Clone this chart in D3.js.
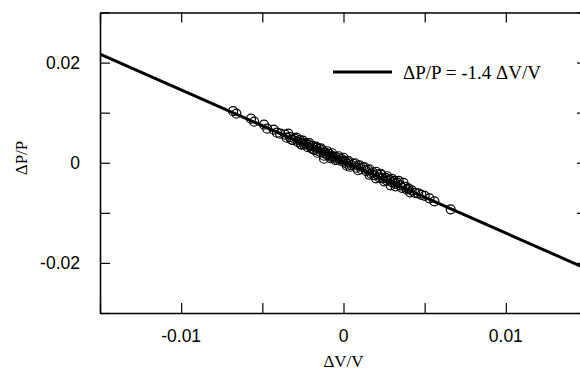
<!DOCTYPE html>
<html>
<head>
<meta charset="utf-8">
<script src="https://cdn.jsdelivr.net/npm/d3@7"></script>
<style>
  body { margin: 0; background: #fff; }
  .tick-label { font-family: "Liberation Sans", Arial, sans-serif; font-size: 17.5px; fill: #000; }
  .title { font-family: "Liberation Serif", "Times New Roman", serif; fill: #000; }
</style>
</head>
<body>
<svg id="chart"></svg>
<script>
// measured points, ΔV/V and ΔP/P
const dvv = [
  -0.0068, -0.0066, -0.0057, -0.0055, -0.0049, -0.0047, -0.0043, -0.0041, -0.0039,
  -0.0036, -0.0035, -0.0033, -0.0031, -0.0030, -0.0028, -0.0027, -0.0026, -0.0025, -0.0024,
  -0.0023, -0.0022, -0.0021, -0.0020, -0.0019, -0.0018, -0.0017, -0.0016, -0.0015, -0.0014,
  -0.0013, -0.0012, -0.0012, -0.0011, -0.0010, -0.0009, -0.0008, -0.0007, -0.0006, -0.0005,
  -0.0004, -0.0003, -0.0002, -0.0001, 0.0000, 0.0001, 0.0002, 0.0003, 0.0005, 0.0006,
  0.0008, 0.0009, 0.0011, 0.0012, 0.0014, 0.0015, 0.0017, 0.0018, 0.0019, 0.0021,
  0.0022, 0.0023, 0.0024, 0.0026, 0.0027, 0.0028, 0.0030, 0.0031, 0.0032, 0.0033,
  0.0035, 0.0036, 0.0038, 0.0039, 0.0040, 0.0042, 0.0044, 0.0046, 0.0048, 0.0050,
  0.0053, 0.0056, 0.0066,
  -0.0034, -0.0029, -0.0025, -0.0021, -0.0017, -0.0014, -0.0010, -0.0007, -0.0003, 0.0000,
  0.0003, 0.0007, 0.0010, 0.0013, 0.0016, 0.0020, 0.0023, 0.0027, 0.0030, 0.0034, 0.0037,
  -0.0032, -0.0026, -0.0019, -0.0012, -0.0005, 0.0002, 0.0009, 0.0016, 0.0025, 0.0032, 0.0041,
  0.0004, 0.0020, 0.0029, -0.0008, -0.0016
];
const dpp = [
  0.0103, 0.0098, 0.0088, 0.0082, 0.0076, 0.0068, 0.0066, 0.0060, 0.0058,
  0.0056, 0.0050, 0.0051, 0.0045, 0.0048, 0.0041, 0.0045, 0.0037, 0.0040, 0.0036,
  0.0038, 0.0031, 0.0035, 0.0030, 0.0033, 0.0026, 0.0030, 0.0024, 0.0028, 0.0021,
  0.0025, 0.0008, 0.0019, 0.0020, 0.0015, 0.0018, 0.0012, 0.0014, 0.0010, 0.0012,
  0.0006, 0.0009, 0.0004, 0.0007, 0.0002, 0.0004, -0.0002, 0.0001, -0.0005, -0.0002,
  -0.0010, -0.0006, -0.0013, -0.0009, -0.0017, -0.0014, -0.0022, -0.0019, -0.0025, -0.0023,
  -0.0029, -0.0024, -0.0031, -0.0030, -0.0036, -0.0033, -0.0039, -0.0036, -0.0042, -0.0039,
  -0.0045, -0.0050, -0.0048, -0.0053, -0.0051, -0.0055, -0.0060, -0.0061, -0.0064, -0.0066,
  -0.0071, -0.0077, -0.0093,
  0.0058, 0.0050, 0.0044, 0.0039, 0.0032, 0.0029, 0.0023, 0.0019, 0.0013, 0.0010,
  0.0004, -0.0001, -0.0005, -0.0009, -0.0013, -0.0018, -0.0022, -0.0027, -0.0032, -0.0036, -0.0040,
  0.0046, 0.0036, 0.0027, 0.0014, 0.0005, -0.0006, -0.0015, -0.0024, -0.0037, -0.0047, -0.0059,
  -0.0008, -0.0031, -0.0045, 0.0009, 0.0020
];
// fit line  ΔP/P = -1.4 ΔV/V, end points
const fitX = [-0.015, 0.015];
const fitY = [0.0217, -0.0212];

const xTicks = [-0.015, -0.01, -0.005, 0, 0.005, 0.01, 0.015];
const xLabels = [-0.01, 0, 0.01];
const yTicks = [-0.03, -0.02, -0.01, 0, 0.01, 0.02, 0.03];
const yLabels = [-0.02, 0, 0.02];

const width = 580, height = 370;
const margin = { top: 12.5, right: -7, bottom: 57, left: 100 };

const svg = d3.select("#chart").attr("width", width).attr("height", height);

const x = d3.scaleLinear().domain([-0.015, 0.015]).range([margin.left, width - margin.right]);
const y = d3.scaleLinear().domain([-0.03, 0.03]).range([height - margin.bottom, margin.top]);

svg.append("clipPath").attr("id", "plot-clip")
  .append("rect")
  .attr("x", x(-0.015)).attr("y", y(0.03))
  .attr("width", x(0.015) - x(-0.015)).attr("height", y(-0.03) - y(0.03));

// points
const plot = svg.append("g").attr("clip-path", "url(#plot-clip)");
plot.selectAll("circle")
  .data(dvv.map((v, i) => ({ x: v, y: dpp[i] })))
  .enter().append("circle")
  .attr("cx", d => x(d.x))
  .attr("cy", d => y(d.y))
  .attr("r", 4.5)
  .attr("fill", "none")
  .attr("stroke", "#000")
  .attr("stroke-width", 1.2);

// fit line
plot.append("path")
  .datum(fitX.map((v, i) => [v, fitY[i]]))
  .attr("d", d3.line().x(d => x(d[0])).y(d => y(d[1])))
  .attr("fill", "none")
  .attr("stroke", "#000")
  .attr("stroke-width", 3);

// axes, ticks drawn inward on all four sides
const tickLen = 10;
const axisStyle = g => {
  g.select(".domain").attr("stroke-width", 1.6);
  g.selectAll(".tick line").attr("stroke-width", 1.2);
  g.selectAll(".tick text").remove();
};

svg.append("g")
  .attr("transform", `translate(0,${y(-0.03)})`)
  .call(d3.axisBottom(x).tickValues(xTicks).tickSizeInner(-tickLen).tickSizeOuter(0))
  .call(axisStyle);
svg.append("g")
  .attr("transform", `translate(0,${y(0.03)})`)
  .call(d3.axisTop(x).tickValues(xTicks).tickSizeInner(-tickLen).tickSizeOuter(0))
  .call(axisStyle);
svg.append("g")
  .attr("transform", `translate(${x(-0.015)},0)`)
  .call(d3.axisLeft(y).tickValues(yTicks).tickSizeInner(-tickLen).tickSizeOuter(0))
  .call(axisStyle);
svg.append("g")
  .attr("transform", `translate(${x(0.015)},0)`)
  .call(d3.axisRight(y).tickValues(yTicks).tickSizeInner(-tickLen).tickSizeOuter(0))
  .call(axisStyle);

// tick labels
svg.selectAll("text.xl")
  .data(xLabels)
  .enter().append("text")
  .attr("class", "tick-label xl")
  .attr("x", d => x(d))
  .attr("y", 342)
  .attr("text-anchor", "middle")
  .text(d => d === 0 ? "0" : d3.format(".2f")(d).replace("−", "-"));

svg.selectAll("text.yl")
  .data(yLabels)
  .enter().append("text")
  .attr("class", "tick-label yl")
  .attr("x", 80)
  .attr("y", d => y(d))
  .attr("dy", "0.35em")
  .attr("text-anchor", "end")
  .text(d => d === 0 ? "0" : d3.format(".2f")(d).replace("−", "-"));

// axis titles
svg.append("text")
  .attr("class", "title")
  .attr("x", x(0))
  .attr("y", 367)
  .attr("text-anchor", "middle")
  .style("font-size", "17px")
  .text("ΔV/V");

svg.append("text")
  .attr("class", "title")
  .attr("transform", `translate(27,${158}) rotate(-90)`)
  .attr("text-anchor", "middle")
  .style("font-size", "17px")
  .text("ΔP/P");

// legend
svg.append("line")
  .attr("x1", 333).attr("x2", 392)
  .attr("y1", 72).attr("y2", 72)
  .attr("stroke", "#000")
  .attr("stroke-width", 3);

svg.append("text")
  .attr("class", "title")
  .attr("x", 403)
  .attr("y", 79)
  .style("font-size", "19px")
  .text("ΔP/P = -1.4 ΔV/V");
</script>
</body>
</html>
